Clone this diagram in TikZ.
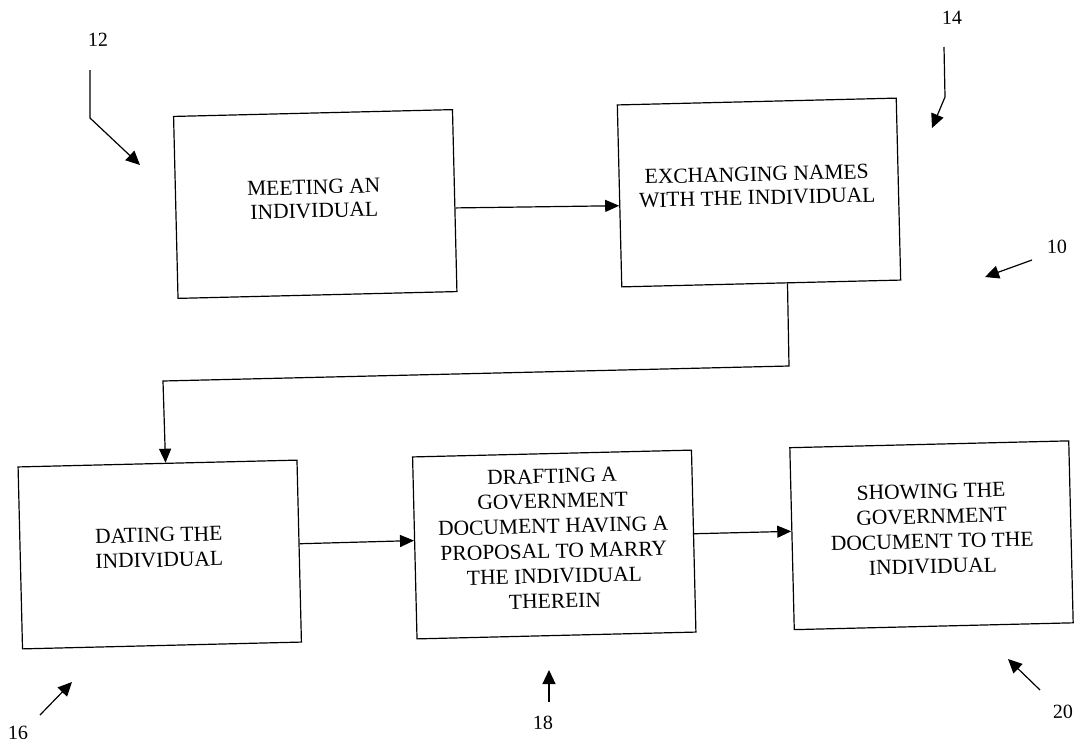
\documentclass[tikz,border=0pt]{standalone}
\usepackage{fontspec}
\setmainfont{Liberation Serif}
\usetikzlibrary{arrows.meta}
\begin{document}
\begin{tikzpicture}[x=1pt,y=-1pt,
  box/.style={draw, line width=1.2pt, rectangle, minimum width=279pt, minimum height=182pt, inner sep=0pt, rotate=1.4},
  txt/.style={font=\fontsize{21.5}{25}\selectfont, align=center, inner sep=0pt, rotate=1.4},
  txttight/.style={txt, font=\fontsize{21.5}{23.5}\selectfont},
  num/.style={font=\fontsize{20}{24}\selectfont, inner sep=0pt, rotate=1.4},
  arr/.style={line width=1.2pt, -{Triangle[length=14pt,width=12pt]}},
  lead/.style={line width=1.2pt, -{Triangle[length=14pt,width=13pt]}}]
\useasboundingbox (0,0) rectangle (1079,745);

% process boxes
\node[box] (b1) at (315.25,204) {};
\node[box] (b2) at (759,192.5) {};
\node[box] (b3) at (159.75,554.5) {};
\node[box] (b4) at (554.25,544.5) {};
\node[box] (b5) at (931.5,535.25) {};

% box texts
\node[txttight] (t1) at (314,199) {MEETING AN\\INDIVIDUAL};
\node[txttight] (t2) at (757,186) {EXCHANGING NAMES\\WITH THE INDIVIDUAL};
\node[txt] (t3) at (159,547.5) {DATING THE\\INDIVIDUAL};
\node[txt] (t4) at (553.5,538.5) {DRAFTING A\\GOVERNMENT\\DOCUMENT HAVING A\\PROPOSAL TO MARRY\\THE INDIVIDUAL\\THEREIN};
\node[txt] (t5) at (932,529) {SHOWING THE\\GOVERNMENT\\DOCUMENT TO THE\\INDIVIDUAL};

% connectors
\coordinate (c1) at (789,366);
\coordinate (c2) at (163,381);
\draw[arr] (b1.-3) -- (b2.184);
\draw[arr] (b2.-74) -- (c1) -- (c2) -- (b3.85);
\draw[arr] (b3.3) -- (b4.177);
\draw[arr] (b4.3) -- (b5.177);

% reference numerals
\node[num] (n12) at (98,40) {12};
\node[num] (n14) at (952,18) {14};
\node[num] (n10) at (1057,247) {10};
\node[num] (n16) at (18,733) {16};
\node[num] (n18) at (543,723) {18};
\node[num] (n20) at (1063,712) {20};

% leader arrows
\coordinate (l12a) at (90,70);
\coordinate (l12b) at (90,118);
\coordinate (l12c) at (140,165);
\draw[lead] (l12a) -- (l12b) -- (l12c);
\coordinate (l14a) at (944,47);
\coordinate (l14b) at (945,97);
\coordinate (l14c) at (932,128);
\draw[lead] (l14a) -- (l14b) -- (l14c);
\coordinate (l10a) at (1032,260);
\coordinate (l10b) at (985,277);
\draw[lead] (l10a) -- (l10b);
\coordinate (l16a) at (40,715);
\coordinate (l16b) at (72,682);
\draw[lead] (l16a) -- (l16b);
\coordinate (l18a) at (549,702);
\coordinate (l18b) at (549,670);
\draw[lead] (l18a) -- (l18b);
\coordinate (l20a) at (1040,690);
\coordinate (l20b) at (1008,659);
\draw[lead] (l20a) -- (l20b);
\end{tikzpicture}
\end{document}
